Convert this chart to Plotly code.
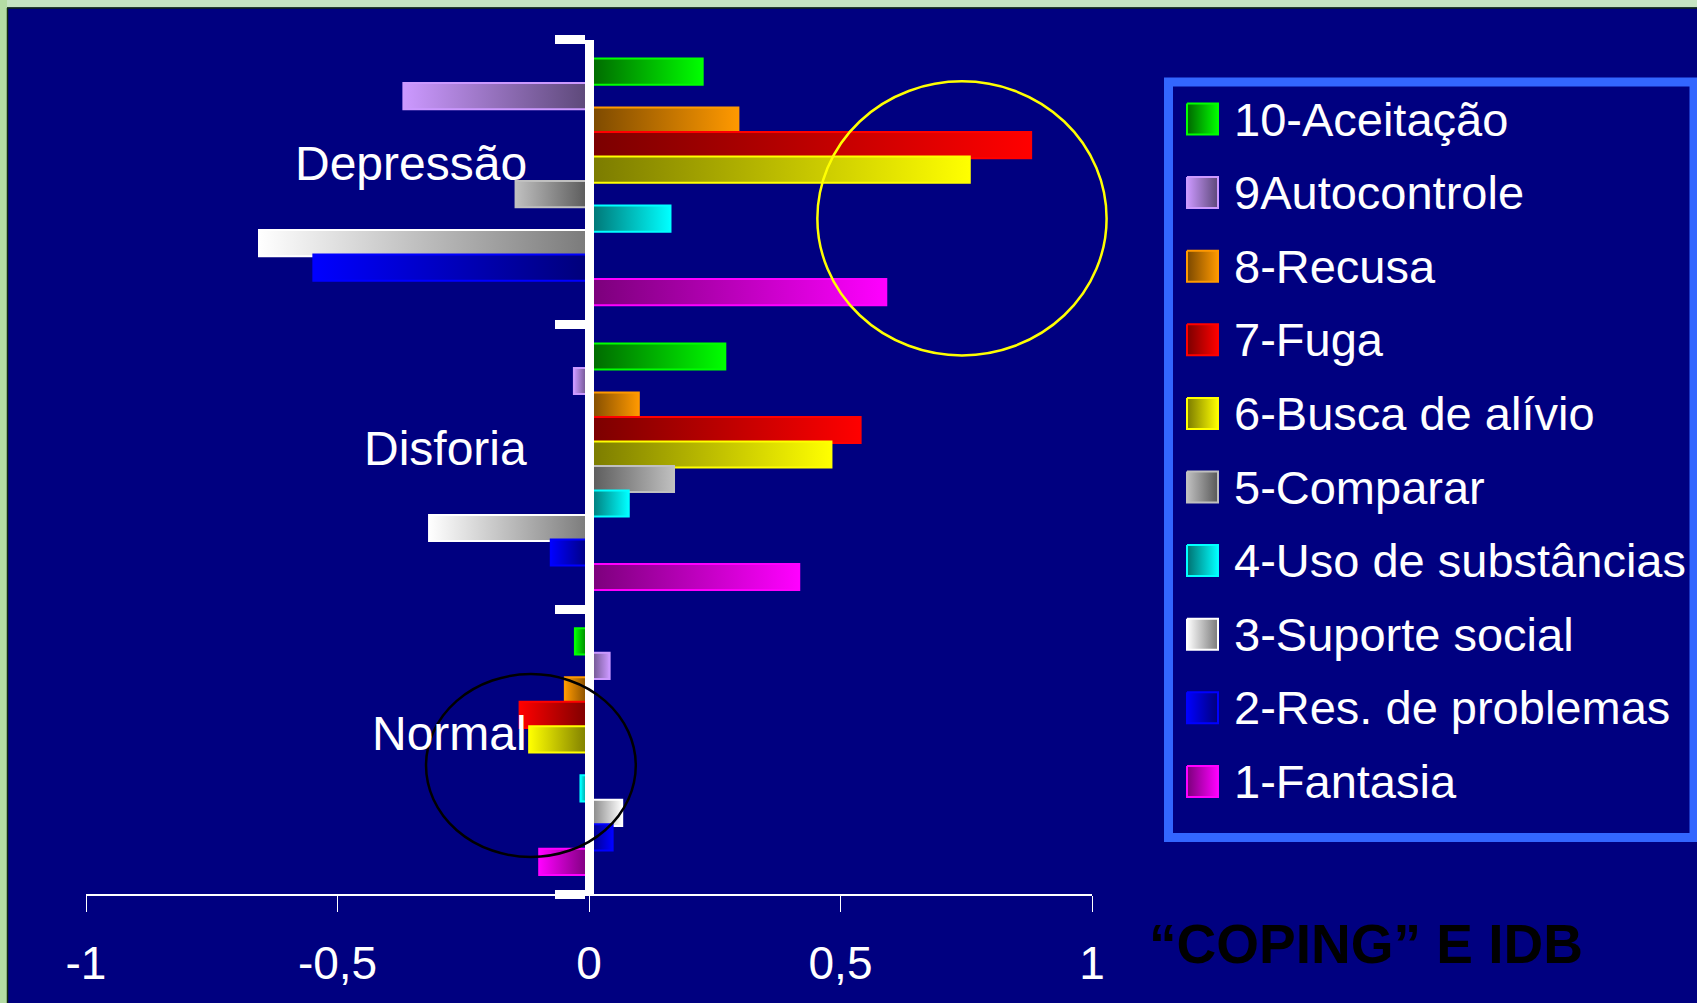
import plotly.graph_objects as go

W, H = 1697, 1003

# ---- data -------------------------------------------------------------
categories = ["Normal", "Disforia", "Depressão"]          # bottom -> top
series = ["10-Aceitação", "9Autocontrole", "8-Recusa", "7-Fuga",
          "6-Busca de alívio", "5-Comparar", "4-Uso de substâncias",
          "3-Suporte social", "2-Res. de problemas", "1-Fantasia"]

# correlation per category: Normal, Disforia, Depressão
aceitacao = [-0.028, 0.271, 0.226]
autocontrole = [0.041, -0.030, -0.369]
recusa = [-0.048, 0.099, 0.297]
fuga = [-0.138, 0.540, 0.879]
busca_alivio = [-0.119, 0.482, 0.757]
comparar = [0.0, 0.169, -0.146]
uso_substancias = [-0.017, 0.079, 0.162]
suporte_social = [0.066, -0.318, -0.656]
res_problemas = [0.047, -0.076, -0.548]
fantasia = [-0.099, 0.418, 0.591]

values = [aceitacao, autocontrole, recusa, fuga, busca_alivio, comparar,
          uso_substancias, suporte_social, res_problemas, fantasia]

x_ticks = [-1, -0.5, 0, 0.5, 1]
x_tick_labels = ["-1", "-0,5", "0", "0,5", "1"]
title_text = "“COPING” E IDB"

# ---- styling ----------------------------------------------------------
NAVY = "#000080"
SANS = "Liberation Sans, Arial, sans-serif"

# (shade near the axis, bright end colour)
palette = [
    ("#006600", "#00FF00"),
    ("#5C4878", "#CC99FF"),
    ("#7A4800", "#FF9900"),
    ("#7A0000", "#FF0000"),
    ("#7A7A00", "#FFFF00"),
    ("#585858", "#C0C0C0"),
    ("#007070", "#00FFFF"),
    ("#7A7A7A", "#FFFFFF"),
    ("#00007A", "#0000FF"),
    ("#7A007A", "#FF00FF"),
]

SLOT = 0.086      # vertical step between bars of one group (category units)
HALF = 0.046      # half bar thickness

X_RANGE = [-1, 1]
Y_RANGE = [-0.5, 2.5]


def px(x):
    return x / W


def py(y):
    return 1 - y / H


X_DOM = [px(86), px(1092)]
Y_DOM = [py(894), py(39.5)]


def data_to_paper_x(v):
    return X_DOM[0] + (v - X_RANGE[0]) / (X_RANGE[1] - X_RANGE[0]) * (X_DOM[1] - X_DOM[0])


def data_to_paper_y(v):
    return Y_DOM[0] + (v - Y_RANGE[0]) / (Y_RANGE[1] - Y_RANGE[0]) * (Y_DOM[1] - Y_DOM[0])


fig = go.Figure()

n = len(series)
for i, (name, vals) in enumerate(zip(series, values)):
    dark, bright = palette[i]
    for c, v in enumerate(vals):
        if v == 0:
            continue
        yc = c + (n / 2 - 0.5 - i) * SLOT
        y0, y1 = yc - HALF, yc + HALF
        scale = [[0, dark], [1, bright]] if v > 0 else [[0, bright], [1, dark]]
        fig.add_trace(go.Scatter(
            x=[0, v, v, 0, 0], y=[y0, y0, y1, y1, y0],
            mode="lines", fill="toself",
            line=dict(color=bright, width=2),
            fillgradient=dict(type="horizontal", colorscale=scale),
            name=name, legendgroup=name, showlegend=False,
            hoverinfo="text", text=f"{categories[c]}: {v}",
        ))

# ---- legend (swatches on a page-sized pixel axis) ----------------------
LEG_X0, LEG_X1 = 1187, 1218
LEG_TEXT_X = 1232
LEG_ROW0, LEG_STEP = 119, 73.6
annotations = []
for i, name in enumerate(series):
    dark, bright = palette[i]
    yc = LEG_ROW0 + i * LEG_STEP
    first = values[i][-1]
    scale = [[0, dark], [1, bright]] if first >= 0 else [[0, bright], [1, dark]]
    fig.add_trace(go.Scatter(
        x=[LEG_X0, LEG_X1, LEG_X1, LEG_X0, LEG_X0],
        y=[yc - 15.5, yc - 15.5, yc + 15.5, yc + 15.5, yc - 15.5],
        xaxis="x2", yaxis="y2", mode="lines", fill="toself",
        line=dict(color=bright, width=2),
        fillgradient=dict(type="horizontal", colorscale=scale),
        showlegend=False, hoverinfo="skip",
    ))
    annotations.append(dict(
        x=px(LEG_TEXT_X), y=py(yc), xref="paper", yref="paper",
        xanchor="left", yanchor="middle", showarrow=False, text=name,
        font=dict(family=SANS, size=47, color="white"),
    ))

# category labels beside the value axis
for c, cat in enumerate(categories):
    annotations.append(dict(
        x=0, y=c, xref="x", yref="y", xanchor="right", yanchor="middle",
        xshift=-60, yshift=18, showarrow=False, text=cat,
        font=dict(family=SANS, size=48, color="white"),
    ))

annotations.append(dict(
    x=px(1147), y=py(944), xref="paper", yref="paper",
    xanchor="left", yanchor="middle", showarrow=False, text=title_text,
    font=dict(family=SANS, size=55, color="black", weight="bold"),
))

# highlight ellipses (in data units, placed on the page so they are not clipped)
yellow_ring = dict(x0=0.454, x1=1.029, y0=1.391, y1=2.353)
black_ring = dict(x0=-0.324, x1=0.093, y0=-0.370, y1=0.272)


def ring(r, color):
    return dict(type="circle", xref="paper", yref="paper",
                x0=data_to_paper_x(r["x0"]), x1=data_to_paper_x(r["x1"]),
                y0=data_to_paper_y(r["y0"]), y1=data_to_paper_y(r["y1"]),
                line=dict(color=color, width=2.5), fillcolor="rgba(0,0,0,0)")


shapes = [
    # slide frame
    dict(type="rect", xref="paper", yref="paper", x0=0, x1=1, y0=py(7.5), y1=1,
         fillcolor="#C6E4C2", line=dict(width=0), layer="below"),
    dict(type="rect", xref="paper", yref="paper", x0=0, x1=px(7), y0=0, y1=1,
         fillcolor="#B4DCA4", line=dict(width=0), layer="below"),
    dict(type="line", xref="paper", yref="paper", x0=px(7), x1=1, y0=py(8), y1=py(8),
         line=dict(color="#102a10", width=1.5), layer="below"),
    dict(type="line", xref="paper", yref="paper", x0=px(7.5), x1=px(7.5), y0=0, y1=py(8),
         line=dict(color="#102a10", width=1.5), layer="below"),
    # legend frame
    dict(type="rect", xref="paper", yref="paper", x0=px(1168.5), x1=px(1694),
         y0=py(837.5), y1=py(82), fillcolor=NAVY,
         line=dict(color="#3366FF", width=9), layer="below"),
    ring(yellow_ring, "#FFFF00"),
    ring(black_ring, "black"),
]

fig.update_layout(
    width=W, height=H,
    margin=dict(l=0, r=0, t=0, b=0, autoexpand=False),
    paper_bgcolor=NAVY, plot_bgcolor="rgba(0,0,0,0)",
    showlegend=False,
    xaxis=dict(
        domain=X_DOM, range=X_RANGE, tickmode="array",
        tickvals=x_ticks, ticktext=x_tick_labels,
        showgrid=False, zeroline=False, automargin=False,
        showline=True, linecolor="white", linewidth=1.5,
        ticks="outside", ticklen=16, tickwidth=1, tickcolor="white",
        tickfont=dict(family=SANS, size=46, color="white"),
        ticklabelstandoff=12, fixedrange=True,
    ),
    yaxis=dict(
        domain=Y_DOM, range=Y_RANGE, anchor="free",
        position=(X_DOM[0] + X_DOM[1]) / 2,
        tickmode="array", tickvals=[-0.5, 0.5, 1.5, 2.5],
        showticklabels=False, showgrid=False, zeroline=False,
        automargin=False,
        showline=True, linecolor="white", linewidth=9,
        ticks="outside", ticklen=30, tickwidth=9, tickcolor="white",
        fixedrange=True,
    ),
    xaxis2=dict(domain=[0, 1], range=[0, W], visible=False, anchor="y2",
                automargin=False, fixedrange=True),
    yaxis2=dict(domain=[0, 1], range=[H, 0], visible=False, anchor="x2",
                automargin=False, fixedrange=True),
    shapes=shapes,
    annotations=annotations,
)

fig.write_html("out.html")
